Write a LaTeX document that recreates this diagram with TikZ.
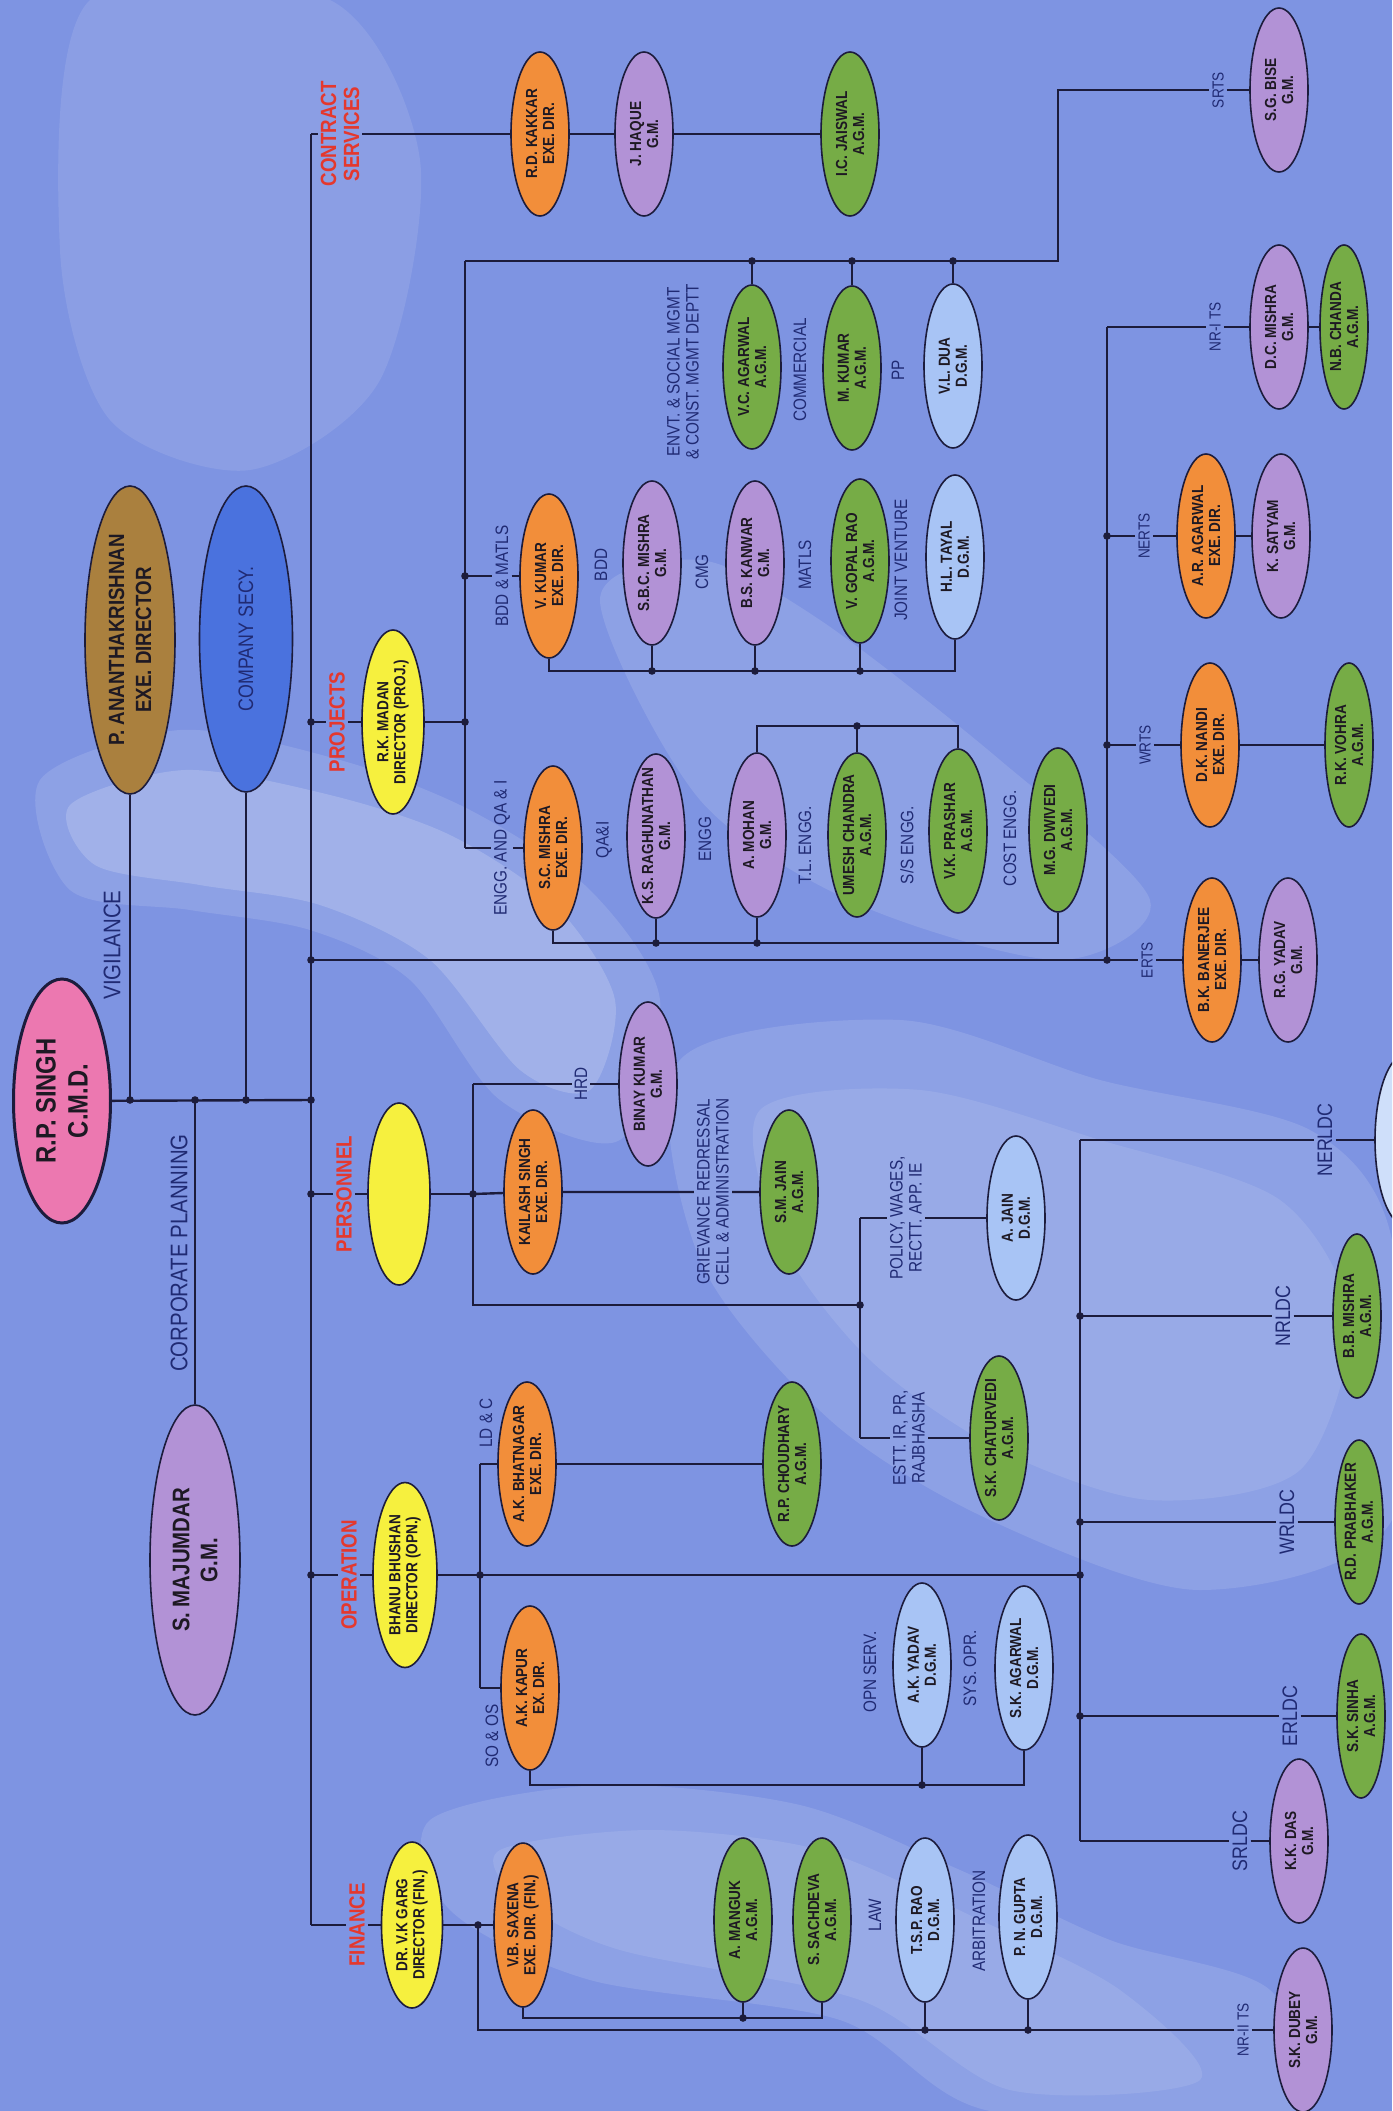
\documentclass[tikz,border=0pt]{standalone}
\usepackage{fontspec}
\setmainfont{Liberation Sans}
\newfontfamily\condfont[FakeStretch=0.85]{Liberation Sans}
\usetikzlibrary{shapes.geometric}

\definecolor{skycol}{RGB}{126,148,226}
\definecolor{wirecol}{RGB}{28,28,60}
\definecolor{inkcol}{RGB}{30,25,35}
\definecolor{labcol}{RGB}{32,42,115}
\definecolor{deptcol}{RGB}{228,56,46}
\definecolor{gmcol}{RGB}{178,146,214}
\definecolor{agmcol}{RGB}{118,172,70}
\definecolor{exdcol}{RGB}{242,142,58}
\definecolor{dgmcol}{RGB}{168,196,245}
\definecolor{dircol}{RGB}{246,240,62}
\definecolor{cmdcol}{RGB}{236,120,176}
\definecolor{edcol}{RGB}{170,128,62}
\definecolor{secycol}{RGB}{74,114,222}

\begin{document}
\begin{tikzpicture}[
    x=1pt, y=-1pt,
    person/.style={ellipse, draw=wirecol, line width=1.6pt, fill=#1, minimum width=58pt, minimum height=164pt, inner sep=0pt},
    nametext/.style={rotate=90, align=center, text=inkcol, inner sep=0pt, font=\condfont\bfseries\fontsize{16}{17}\selectfont},
    unittext/.style={rotate=90, align=center, text=labcol, inner sep=3pt, font=\condfont\fontsize{18}{19}\selectfont},
    tstext/.style={unittext, font=\condfont\fontsize{16}{17}\selectfont},
    ldctext/.style={unittext, font=\condfont\fontsize{21}{22}\selectfont},
    depttext/.style={rotate=90, align=center, text=deptcol, inner sep=3pt, font=\condfont\bfseries\fontsize{22}{23}\selectfont},
    bigtext/.style={rotate=90, align=center, text=labcol, inner sep=2pt, font=\condfont\fontsize{24}{25}\selectfont},
    wire/.style={draw=wirecol, line width=2.4pt},
    haze/.style={fill=white, opacity=#1}
]
    \useasboundingbox (0,0) rectangle (1392,2111);
    \clip (0,0) rectangle (1392,2111);
    \fill[skycol] (0,0) rectangle (1392,2111);

    % clouds
    \fill[haze=0.10] plot[smooth cycle] coordinates {(90,0) (330,0) (420,160) (380,380) (250,470) (110,420) (60,250)};
    \fill[haze=0.12] plot[smooth cycle] coordinates {(40,780) (180,730) (340,760) (470,810) (590,890) (660,1000) (620,1140) (500,1100) (410,980) (310,930) (190,910) (70,890)};
    \fill[haze=0.18] plot[smooth cycle] coordinates {(70,805) (185,770) (330,795) (450,835) (555,905) (615,1000) (590,1090) (520,1070) (430,960) (320,905) (200,885) (95,865)};
    \fill[haze=0.12] plot[smooth cycle] coordinates {(600,600) (700,560) (820,620) (1000,760) (1150,900) (1060,960) (860,905) (700,800)};
    \fill[haze=0.12] plot[smooth cycle] coordinates {(680,1060) (900,1020) (1100,1080) (1310,1130) (1392,1240) (1392,1520) (1200,1590) (990,1520) (830,1420) (700,1260)};
    \fill[haze=0.10] plot[smooth cycle] coordinates {(760,1110) (920,1090) (1100,1140) (1280,1200) (1350,1320) (1300,1470) (1150,1500) (1000,1450) (870,1360) (780,1240)};
    \fill[haze=0.12] plot[smooth cycle] coordinates {(430,1820) (600,1785) (800,1805) (960,1870) (1110,1940) (1270,1990) (1300,2111) (990,2111) (840,2020) (590,1980) (450,1910)};
    \fill[haze=0.10] plot[smooth cycle] coordinates {(500,1850) (650,1830) (820,1850) (980,1920) (1120,1990) (1200,2080) (1010,2090) (860,2000) (620,1950) (520,1900)};

    % top level
    \node[person=cmdcol, line width=3pt, minimum width=97pt, minimum height=244pt] (cmd) at (62,1101) {};
    \node[nametext, font=\condfont\bfseries\fontsize{28}{32}\selectfont] (cmd-t) at (cmd) {R.P. SINGH\\C.M.D.};
    \node[person=edcol, minimum width=90pt, minimum height=308pt] (anant) at (130,640) {};
    \node[nametext, font=\condfont\bfseries\fontsize{22}{27}\selectfont] (anant-t) at (anant) {P. ANANTHAKRISHNAN\\EXE. DIRECTOR};
    \node[person=secycol, minimum width=93pt, minimum height=306pt] (secy) at (246,639) {};
    \node[nametext, text=labcol, font=\condfont\fontsize{21}{24}\selectfont] (secy-t) at (secy) {COMPANY SECY.};
    \node[person=gmcol, minimum width=90pt, minimum height=310pt] (majumdar) at (195,1560) {};
    \node[nametext, font=\condfont\bfseries\fontsize{24}{28}\selectfont] (majumdar-t) at (majumdar) {S. MAJUMDAR\\G.M.};

    % directors
    \node[person=dircol, minimum width=62pt, minimum height=184pt] (madan) at (393,722) {};
    \node[nametext] (madan-t) at (madan) {R.K. MADAN\\DIRECTOR (PROJ.)};
    \node[person=dircol, minimum width=62pt, minimum height=182pt] (persnode) at (399,1194) {};
    \node[person=dircol, minimum width=64pt, minimum height=185pt] (bhanu) at (405,1575) {};
    \node[nametext] (bhanu-t) at (bhanu) {BHANU BHUSHAN\\DIRECTOR (OPN.)};
    \node[person=dircol, minimum width=61pt, minimum height=166pt] (garg) at (412,1925) {};
    \node[nametext] (garg-t) at (garg) {DR. V.K GARG\\DIRECTOR (FIN.)};

    % officers
    \foreach \nm/\col/\px/\py/\txt in {
        kakkar/exdcol/540/134/{R.D. KAKKAR\\EXE. DIR.},
        haque/gmcol/644/134/{J. HAQUE\\G.M.},
        jaiswal/agmcol/850/134/{I.C. JAISWAL\\A.G.M.},
        vcagarwal/agmcol/752/367/{V.C. AGARWAL\\A.G.M.},
        mkumar/agmcol/852/368/{M. KUMAR\\A.G.M.},
        vldua/dgmcol/953/366/{V.L. DUA\\D.G.M.},
        vkumar/exdcol/549/576/{V. KUMAR\\EXE. DIR.},
        sbcmishra/gmcol/652/563/{S.B.C. MISHRA\\G.M.},
        bskanwar/gmcol/755/563/{B.S. KANWAR\\G.M.},
        vgopalrao/agmcol/860/561/{V. GOPAL RAO\\A.G.M.},
        hltayal/dgmcol/955/557/{H.L. TAYAL\\D.G.M.},
        scmishra/exdcol/553/848/{S.C. MISHRA\\EXE. DIR.},
        ksraghu/gmcol/656/836/{K.S. RAGHUNATHAN\\G.M.},
        amohan/gmcol/757/835/{A. MOHAN\\G.M.},
        umesh/agmcol/857/835/{UMESH CHANDRA\\A.G.M.},
        vkprashar/agmcol/958/831/{V.K. PRASHAR\\A.G.M.},
        mgdwivedi/agmcol/1058/830/{M.G. DWIVEDI\\A.G.M.},
        sgbise/gmcol/1279/90/{S.G. BISE\\G.M.},
        dcmishra/gmcol/1279/327/{D.C. MISHRA\\G.M.},
        aragarwal/exdcol/1206/536/{A.R. AGARWAL\\EXE. DIR.},
        ksatyam/gmcol/1281/536/{K. SATYAM\\G.M.},
        dknandi/exdcol/1210/745/{D.K. NANDI\\EXE. DIR.},
        bkbanerjee/exdcol/1212/960/{B.K. BANERJEE\\EXE. DIR.},
        rgyadav/gmcol/1288/960/{R.G. YADAV\\G.M.},
        binay/gmcol/648/1084/{BINAY KUMAR\\G.M.},
        kailash/exdcol/533/1192/{KAILASH SINGH\\EXE. DIR.},
        smjain/agmcol/789/1192/{S.M. JAIN\\A.G.M.},
        ajain/dgmcol/1016/1218/{A. JAIN\\D.G.M.},
        skchaturvedi/agmcol/999/1438/{S.K. CHATURVEDI\\A.G.M.},
        akbhatnagar/exdcol/527/1464/{A.K. BHATNAGAR\\EXE. DIR.},
        rpchoudhary/agmcol/792/1464/{R.P. CHOUDHARY\\A.G.M.},
        akkapur/exdcol/530/1688/{A.K. KAPUR\\EX. DIR.},
        akyadav/dgmcol/922/1665/{A.K. YADAV\\D.G.M.},
        skagarwal/dgmcol/1024/1668/{S.K. AGARWAL\\D.G.M.},
        kkdas/gmcol/1299/1841/{K.K. DAS\\G.M.},
        vbsaxena/exdcol/523/1925/{V.B. SAXENA\\EXE. DIR. (FIN.)},
        amanguk/agmcol/743/1920/{A. MANGUK\\A.G.M.},
        ssachdeva/agmcol/822/1920/{S. SACHDEVA\\A.G.M.},
        tsprao/dgmcol/925/1920/{T.S.P. RAO\\D.G.M.},
        pngupta/dgmcol/1028/1917/{P. N. GUPTA\\D.G.M.},
        skdubey/gmcol/1303/2030/{S.K. DUBEY\\G.M.}} {
        \node[person=\col] (\nm) at (\px,\py) {};
        \node[nametext] (\nm-t) at (\nm) {\txt};
    }
    % narrower ones at the right edge
    \foreach \nm/\px/\py/\txt in {
        nbchanda/1344/327/{N.B. CHANDA\\A.G.M.},
        rkvohra/1349/745/{R.K. VOHRA\\A.G.M.},
        bbmishra/1357/1316/{B.B. MISHRA\\A.G.M.},
        rdprabhaker/1359/1522/{R.D. PRABHAKER\\A.G.M.},
        sksinha/1361/1716/{S.K. SINHA\\A.G.M.}} {
        \node[person=agmcol, minimum width=48pt] (\nm) at (\px,\py) {};
        \node[nametext] (\nm-t) at (\nm) {\txt};
    }
    \node[person=dgmcol!55!white, minimum width=62pt, minimum height=172pt] (bhatta) at (1406,1140) {};
    \node[nametext] (bhatta-t) at (bhatta) {S. BHATTACHARYA};

    % department and unit labels
    \node[depttext] (cslab) at (340,134) {CONTRACT\\SERVICES};
    \node[depttext] (projlab) at (337,722) {PROJECTS};
    \node[depttext] (perslab) at (344,1194) {PERSONNEL};
    \node[depttext] (oplab) at (349,1575) {OPERATION};
    \node[depttext] (finlab) at (357,1925) {FINANCE};
    \node[bigtext] (vigil) at (112,945) {VIGILANCE};
    \node[bigtext] (corpplan) at (179,1253) {CORPORATE PLANNING};

    \node[unittext] (bddmatlab) at (502,576) {BDD \& MATLS};
    \node[unittext] (enggqalab) at (502,848) {ENGG. AND QA \& I};
    \node[unittext] (bddlab) at (601,565) {BDD};
    \node[unittext] (cmglab) at (702,572) {CMG};
    \node[unittext] (matlslab) at (805,565) {MATLS};
    \node[unittext] (jvlab) at (901,560) {JOINT VENTURE};
    \node[unittext] (envtlab) at (683,372) {ENVT. \& SOCIAL MGMT\\\& CONST. MGMT DEPTT};
    \node[unittext] (commlab) at (800,370) {COMMERCIAL};
    \node[unittext] (pplab) at (898,370) {PP};
    \node[unittext] (qalab) at (604,840) {QA\&I};
    \node[unittext] (engglab) at (705,839) {ENGG};
    \node[unittext] (tllab) at (805,845) {T.L. ENGG.};
    \node[unittext] (sslab) at (907,845) {S/S ENGG.};
    \node[unittext] (costlab) at (1010,838) {COST ENGG.};
    \node[unittext] (hrdlab) at (581,1084) {HRD};
    \node[unittext] (grievlab) at (713,1192) {GRIEVANCE REDRESSAL\\CELL \& ADMINISTRATION};
    \node[unittext] (policylab) at (906,1218) {POLICY, WAGES,\\RECTT. APP. IE};
    \node[unittext] (esttlab) at (909,1438) {ESTT. IR, PR,\\RAJBHASHA};
    \node[unittext] (ldclab) at (486,1423) {LD \& C};
    \node[unittext] (sooslab) at (492,1736) {SO \& OS};
    \node[unittext] (opnlab) at (870,1672) {OPN SERV.};
    \node[unittext] (syslab) at (970,1668) {SYS. OPR.};
    \node[unittext] (lawlab) at (875,1915) {LAW};
    \node[unittext] (arblab) at (979,1921) {ARBITRATION};

    \node[tstext] (srtslab) at (1218,90) {SRTS};
    \node[tstext] (nritslab) at (1215,327) {NR-I TS};
    \node[tstext] (nertslab) at (1144,536) {NERTS};
    \node[tstext] (wrtslab) at (1145,745) {WRTS};
    \node[tstext] (ertslab) at (1147,960) {ERTS};
    \node[tstext] (nriitslab) at (1243,2030) {NR-II TS};
    \node[ldctext] (nerldclab) at (1325,1140) {NERLDC};
    \node[ldctext] (nrldclab) at (1283,1316) {NRLDC};
    \node[ldctext] (wrldclab) at (1287,1522) {WRLDC};
    \node[ldctext] (erldclab) at (1290,1716) {ERLDC};
    \node[ldctext] (srldclab) at (1240,1841) {SRLDC};

    % junctions and bends
    \foreach \cn/\cx/\cy in {
        mtop/311/134, mbot/311/1925, vigj/130/1100, cpj/195/1100, csj/246/1100, cmdj/311/1100,
        pmj/311/722, pvj/465/722, ptop/465/261, pbot/465/848, pbdd/465/576,
        srtsbend/1058/261, srtsup/1058/90, vcj/752/261, mkj/852/261, vldj/953/261,
        vkb/549/671, htb/955/671, sbj/652/671, bsj/755/671, vgj/860/671,
        scb/553/943, mgb/1058/943, ksj/656/943, amj/757/943,
        amt/757/726, vkt/958/726, umj/857/726,
        tmj/311/960, tvb/1107/960, tvt/1107/327, nej/1107/536, wrj/1107/745,
        prmj/311/1194, prvj/473/1194, prtop/473/1084, prbot/473/1305,
        polj/860/1305, poltop/860/1218, polbot/860/1438,
        omj/311/1575, ovj/480/1575, otop/480/1464, obot/480/1688, orj/1080/1575,
        kpb/530/1785, skb/1024/1785, ayj/922/1785,
        rtop/1080/1140, rbot/1080/1841, nrj/1080/1316, wrlj/1080/1522, erj/1080/1716,
        fvj/478/1925, fvb/478/2030, tsj/925/2030, pnj/1028/2030,
        sxb/523/2018, ssb/822/2018, amgj/743/2018} {
        \coordinate (\cn) at (\cx,\cy);
    }

    % top level
    \draw[wire] (mtop) -- (mbot);
    \draw[wire] (cmd) -- (cmdj);
    \draw[wire] (anant) -- (vigj);
    \draw[wire] (secy) -- (csj);
    \draw[wire] (cpj) -- (majumdar);

    % contract services
    \draw[wire] (mtop) -- (cslab) -- (kakkar) -- (haque) -- (jaiswal);

    % projects
    \draw[wire] (pmj) -- (projlab) -- (madan) -- (pvj);
    \draw[wire] (ptop) -- (pbot);
    \draw[wire] (ptop) -- (srtsbend) -- (srtsup) -- (srtslab) -- (sgbise);
    \draw[wire] (vcj) -- (vcagarwal);
    \draw[wire] (mkj) -- (mkumar);
    \draw[wire] (vldj) -- (vldua);
    \draw[wire] (pbdd) -- (bddmatlab) -- (vkumar);
    \draw[wire] (vkumar) -- (vkb) -- (htb) -- (hltayal);
    \draw[wire] (sbj) -- (sbcmishra);
    \draw[wire] (bsj) -- (bskanwar);
    \draw[wire] (vgj) -- (vgopalrao);
    \draw[wire] (pbot) -- (enggqalab) -- (scmishra);
    \draw[wire] (scmishra) -- (scb) -- (mgb) -- (mgdwivedi);
    \draw[wire] (ksj) -- (ksraghu);
    \draw[wire] (amj) -- (amohan);
    \draw[wire] (amohan) -- (amt) -- (vkt) -- (vkprashar);
    \draw[wire] (umj) -- (umesh);

    % transmission services
    \draw[wire] (tmj) -- (tvb) -- (ertslab) -- (bkbanerjee) -- (rgyadav);
    \draw[wire] (tvt) -- (tvb);
    \draw[wire] (tvt) -- (nritslab) -- (dcmishra) -- (nbchanda);
    \draw[wire] (nej) -- (nertslab) -- (aragarwal) -- (ksatyam);
    \draw[wire] (wrj) -- (wrtslab) -- (dknandi) -- (rkvohra);

    % personnel
    \draw[wire] (prmj) -- (perslab) -- (persnode) -- (prvj);
    \draw[wire] (prtop) -- (prbot) -- (polj);
    \draw[wire] (prtop) -- (hrdlab) -- (binay);
    \draw[wire] (prvj) -- (kailash) -- (grievlab) -- (smjain);
    \draw[wire] (poltop) -- (polbot);
    \draw[wire] (poltop) -- (policylab) -- (ajain);
    \draw[wire] (polbot) -- (esttlab) -- (skchaturvedi);

    % operation
    \draw[wire] (omj) -- (oplab) -- (bhanu) -- (ovj) -- (orj);
    \draw[wire] (otop) -- (obot);
    \draw[wire] (otop) -- (akbhatnagar) -- (rpchoudhary);
    \draw[wire] (obot) -- (akkapur);
    \draw[wire] (akkapur) -- (kpb) -- (skb) -- (skagarwal);
    \draw[wire] (ayj) -- (akyadav);
    \draw[wire] (rtop) -- (rbot);
    \draw[wire] (rtop) -- (nerldclab) -- (bhatta);
    \draw[wire] (nrj) -- (nrldclab) -- (bbmishra);
    \draw[wire] (wrlj) -- (wrldclab) -- (rdprabhaker);
    \draw[wire] (erj) -- (erldclab) -- (sksinha);
    \draw[wire] (rbot) -- (srldclab) -- (kkdas);

    % finance
    \draw[wire] (mbot) -- (finlab) -- (garg) -- (fvj) -- (vbsaxena);
    \draw[wire] (fvj) -- (fvb) -- (nriitslab) -- (skdubey);
    \draw[wire] (tsj) -- (tsprao);
    \draw[wire] (pnj) -- (pngupta);
    \draw[wire] (vbsaxena) -- (sxb) -- (ssb) -- (ssachdeva);
    \draw[wire] (amgj) -- (amanguk);

    % dots
    \foreach \d in {vigj,cpj,csj,cmdj,pmj,pvj,pbdd,vcj,mkj,vldj,sbj,bsj,vgj,ksj,amj,umj,
        tmj,tvb,nej,wrj,prmj,prvj,polj,omj,ovj,orj,nrj,wrlj,erj,fvj,tsj,pnj,amgj,ayj}
        \fill[wirecol] (\d) circle (3.8pt);
\end{tikzpicture}
\end{document}
